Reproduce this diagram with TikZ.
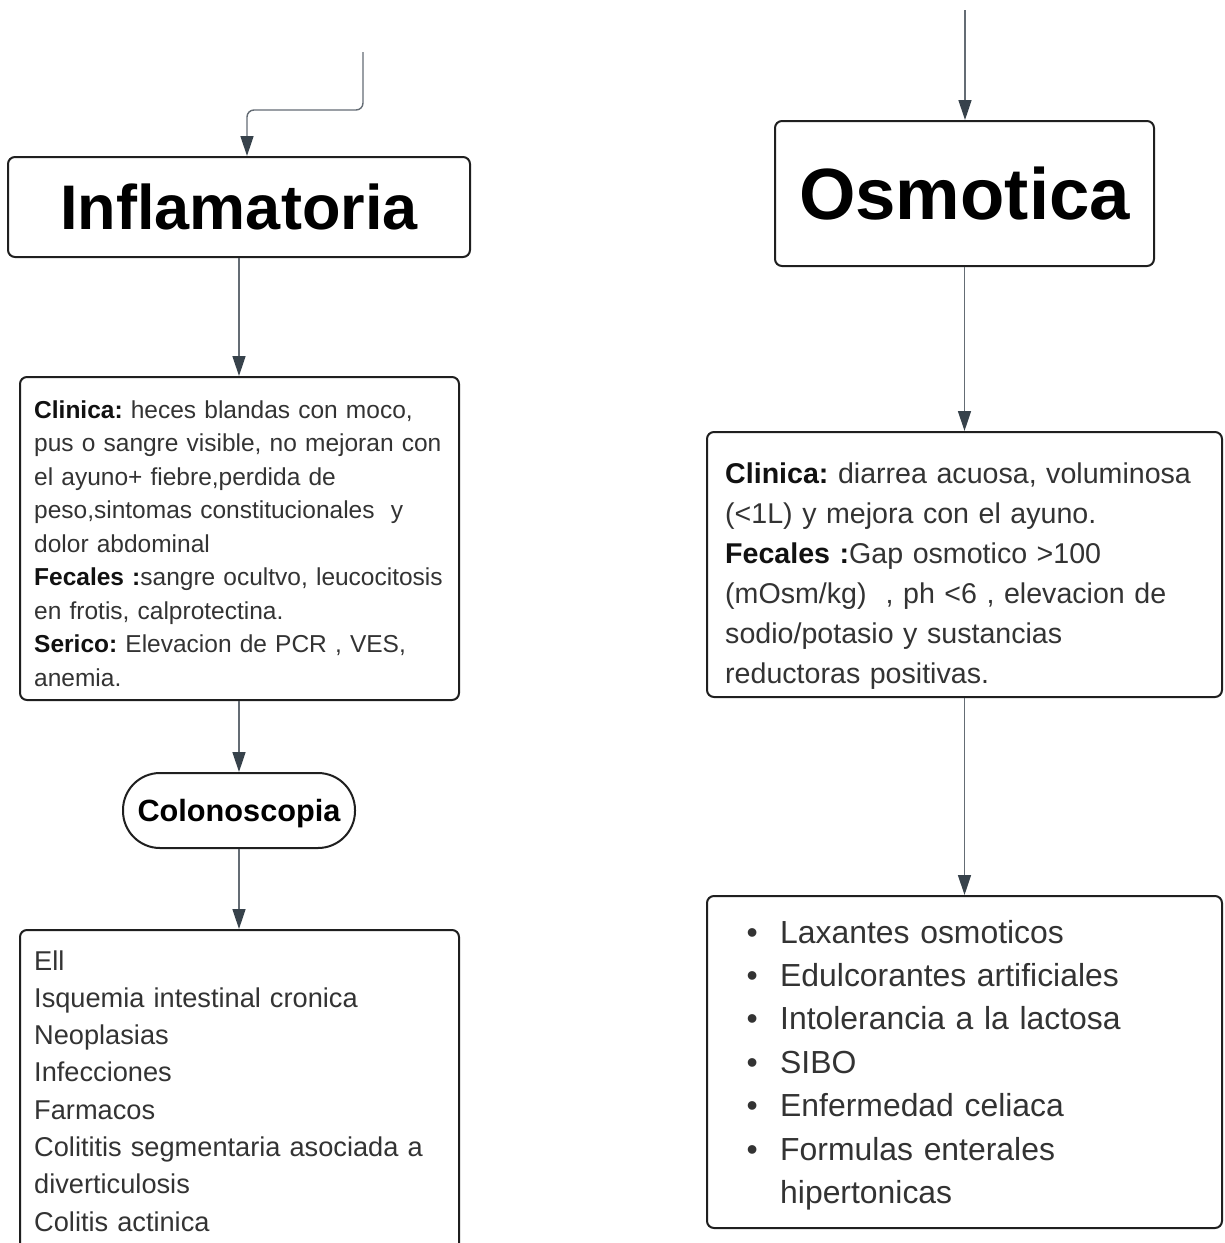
\documentclass[tikz,border=0pt]{standalone}
\usepackage{fontspec}
\setmainfont{Liberation Sans}
\usetikzlibrary{arrows.meta}
\frenchspacing
\definecolor{boxline}{HTML}{1F1F1F}
\definecolor{connline}{HTML}{646C74}
\definecolor{tipcol}{HTML}{37424B}
\definecolor{bodytext}{HTML}{333333}
\definecolor{strongtext}{HTML}{111111}
\newcommand{\lbl}[1]{{\bfseries\color{strongtext}#1}}
\newcommand{\bul}{\makebox[33.5pt][l]{\textbullet}}
\begin{document}
\begin{tikzpicture}[x=1pt,y=-1pt,
  box/.style={draw=boxline,line width=2pt,rounded corners=7pt,fill=white,inner sep=0pt},
  pill/.style={draw=boxline,line width=2pt,rounded corners=37pt,fill=white,inner sep=0pt},
  conn/.style={draw=connline,line width=1.4pt,
    -{Triangle[length=20pt,width=13pt,fill=tipcol,color=tipcol]}},
  bodytxt/.style={inner sep=0pt,anchor=base west,align=left,text=bodytext}
]
\useasboundingbox (0,0) rectangle (1225,1243);
\clip (0,0) rectangle (1225,1243);

% ---------- left column: inflammatory ----------
\node[box,minimum width=462pt,minimum height=100pt,text depth=0pt,
  font=\fontsize{63}{70}\selectfont\bfseries] (infl) at (239,207) {Inflamatoria};

\node[box,minimum width=439pt,minimum height=323pt] (clin1) at (239.5,538.5) {};
\node[bodytxt,text width=430pt,font=\fontsize{24.5}{33.5}\selectfont] (clin1txt) at (34,418)
 {\lbl{Clinica:} heces blandas con moco,\\
  pus o sangre visible, no mejoran con\\
  el ayuno+ fiebre,perdida de\\
  peso,sintomas constitucionales\ \ y\\
  dolor abdominal\\
  \lbl{Fecales :}sangre ocultvo, leucocitosis\\
  en frotis, calprotectina.\\
  \lbl{Serico:} Elevacion de PCR , VES,\\
  anemia.};

\node[pill,minimum width=232pt,minimum height=75pt,text depth=0pt,
  font=\fontsize{30.7}{34}\selectfont\bfseries] (colo) at (239,810.5) {Colonoscopia};

\node[box,minimum width=439pt,minimum height=340pt] (caus1) at (239.5,1100) {};
\node[bodytxt,text width=430pt,font=\fontsize{27.2}{37.3}\selectfont] (caus1txt) at (34,970)
 {Ell\\
  Isquemia intestinal cronica\\
  Neoplasias\\
  Infecciones\\
  Farmacos\\
  Colititis segmentaria asociada a\\
  diverticulosis\\
  Colitis actinica};

% ---------- right column: osmotic ----------
\node[box,minimum width=379pt,minimum height=145pt,text depth=0pt,
  font=\fontsize{72.6}{80}\selectfont\bfseries] (osm) at (964.5,193.5) {Osmotica};

\node[box,minimum width=515pt,minimum height=265pt] (clin2) at (964.5,564.5) {};
\node[bodytxt,text width=490pt,font=\fontsize{28.6}{40}\selectfont] (clin2txt) at (725,483)
 {\lbl{Clinica:} diarrea acuosa, voluminosa\\
  (<1L) y mejora con el ayuno.\\
  \lbl{Fecales :}Gap osmotico >100\\
  (mOsm/kg)\ \ , ph <6 , elevacion de\\
  sodio/potasio y sustancias\\
  reductoras positivas.};

\node[box,minimum width=515pt,minimum height=332pt] (caus2) at (964.5,1062) {};
\node[bodytxt,text width=460pt,font=\fontsize{31.9}{43.4}\selectfont] (caus2txt) at (746.5,943)
 {\bul Laxantes osmoticos\\
  \bul Edulcorantes artificiales\\
  \bul Intolerancia a la lactosa\\
  \bul SIBO\\
  \bul Enfermedad celiaca\\
  \bul Formulas enterales\\
  \makebox[33.5pt][l]{}hipertonicas};

% ---------- connectors ----------
\coordinate (inLeft) at (363,52);
\coordinate (bendLeft) at (247,110);
\coordinate (inRight) at (965,10);
\draw[conn,rounded corners=7pt] (inLeft) |- (bendLeft) -- (bendLeft |- infl.north);
\draw[conn] (inRight) -- (inRight |- osm.north);
\draw[conn] (infl.south) -- (infl.south |- clin1.north);
\draw[conn] (clin1.south -| infl.south) -- (colo.north);
\draw[conn] (colo.south) -- (colo.south |- caus1.north);
\draw[conn] (osm.south) -- (osm.south |- clin2.north);
\draw[conn] (clin2.south) -- (clin2.south |- caus2.north);
\end{tikzpicture}
\end{document}
